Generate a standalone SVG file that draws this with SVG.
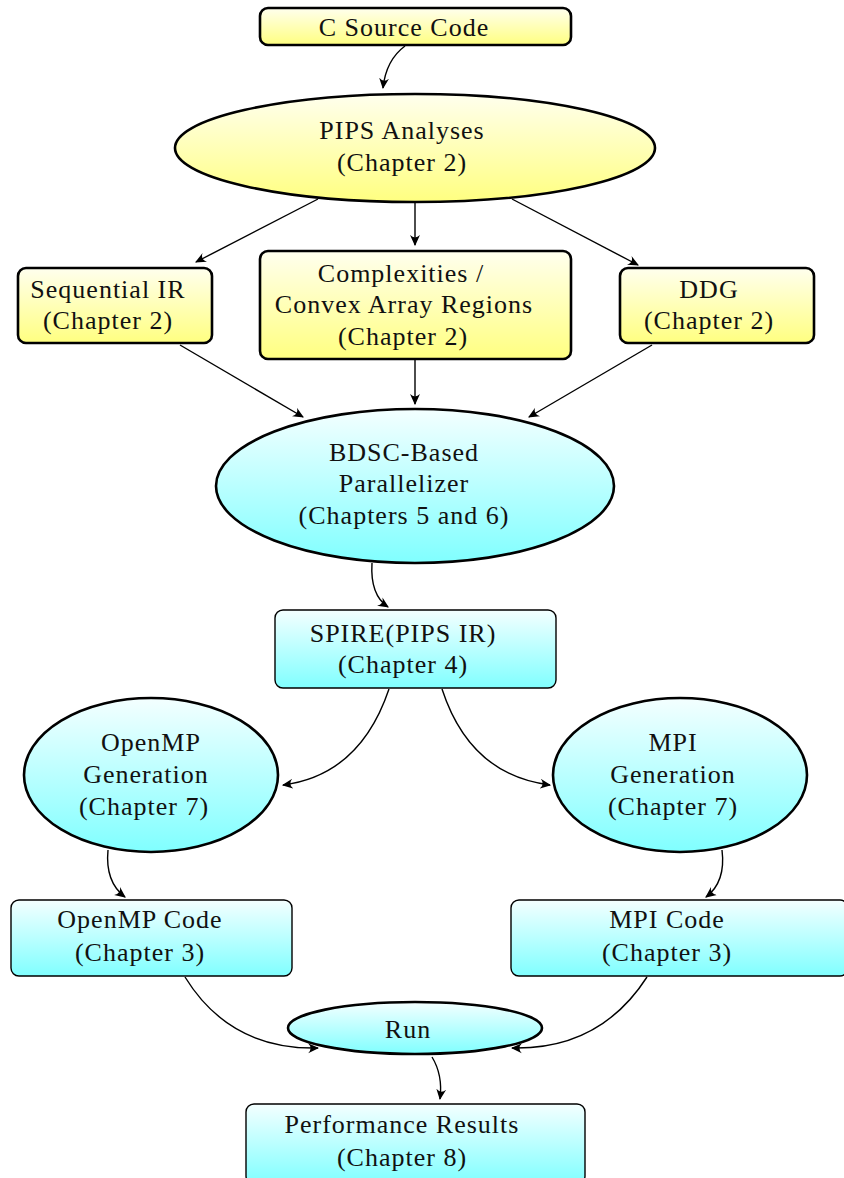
<svg xmlns="http://www.w3.org/2000/svg" width="844" height="1178" viewBox="0 0 844 1178">
<defs>
<linearGradient id="gy" x1="0" y1="0" x2="0" y2="1"><stop offset="0" stop-color="#ffffee"/><stop offset="1" stop-color="#ffff80"/></linearGradient>
<linearGradient id="gc" x1="0" y1="0" x2="0" y2="1"><stop offset="0" stop-color="#f4ffff"/><stop offset="1" stop-color="#80ffff"/></linearGradient>
<marker id="ah" viewBox="0 0 10 10" refX="9" refY="5" markerWidth="11" markerHeight="11" markerUnits="userSpaceOnUse" orient="auto">
<path d="M0,0.5 Q4.5,5 0,9.5 L10,5 Z" fill="#000"/>
</marker>
<style>
.y{fill:url(#gy);stroke:#000;stroke-width:2.6}
.c{fill:url(#gc);stroke:#000;stroke-width:1.4}
.ce{fill:url(#gc);stroke:#000;stroke-width:2.6}
text{font-family:"Liberation Serif","DejaVu Serif",serif;font-size:26px;letter-spacing:1px;fill:#111;text-anchor:middle}
.e path{fill:none;stroke:#000;stroke-width:1.4;marker-end:url(#ah)}
</style>
</defs>
<g class="e" id="connectors">
<path d="M405,46 Q386,60 383,88"/>
<path d="M318,199 L196,262"/>
<path d="M415,203 L415,245"/>
<path d="M512,199 L638,265"/>
<path d="M180,345 L303,417"/>
<path d="M415,360 L415,404"/>
<path d="M652,345 L529,417"/>
<path d="M372,563 Q370,595 388,607"/>
<path d="M389,689 Q360,775 283,785"/>
<path d="M442,689 Q470,775 550,785"/>
<path d="M108,850 Q105,882 125,897"/>
<path d="M722,850 Q726,882 706,897"/>
<path d="M185,977 Q230,1050 318,1048"/>
<path d="M647,977 Q600,1050 512,1048"/>
<path d="M432,1057 Q443,1075 440,1099"/>
</g>
<g id="n1"><rect class="y" x="260" y="8" width="311" height="37" rx="8"/><text x="404" y="36">C Source Code</text></g>
<g id="n2"><ellipse class="y" cx="415" cy="148" rx="240" ry="54"/><text x="402" y="139">PIPS Analyses</text><text x="402" y="171">(Chapter 2)</text></g>
<g id="n3"><rect class="y" x="18" y="268" width="194" height="75" rx="8"/><text x="108" y="298">Sequential IR</text><text x="108" y="329">(Chapter 2)</text></g>
<g id="n4"><rect class="y" x="260" y="251" width="311" height="108" rx="8"/><text x="401" y="282">Complexities /</text><text x="404" y="313">Convex Array Regions</text><text x="403" y="345">(Chapter 2)</text></g>
<g id="n5"><rect class="y" x="620" y="268" width="194" height="75" rx="8"/><text x="709" y="298">DDG</text><text x="709" y="329">(Chapter 2)</text></g>
<g id="n6"><ellipse class="ce" cx="415" cy="486" rx="199" ry="77"/><text x="404" y="461">BDSC-Based</text><text x="404" y="492">Parallelizer</text><text x="404" y="524">(Chapters 5 and 6)</text></g>
<g id="n7"><rect class="c" x="275" y="610" width="281" height="78" rx="8"/><text x="403" y="642">SPIRE(PIPS IR)</text><text x="403" y="673">(Chapter 4)</text></g>
<g id="n8"><ellipse class="ce" cx="151" cy="775" rx="127" ry="77"/><text x="151" y="751">OpenMP</text><text x="146" y="783">Generation</text><text x="144" y="815">(Chapter 7)</text></g>
<g id="n9"><ellipse class="ce" cx="680" cy="775" rx="127" ry="77"/><text x="673" y="751">MPI</text><text x="673" y="783">Generation</text><text x="673" y="815">(Chapter 7)</text></g>
<g id="n10"><rect class="c" x="11" y="900" width="281" height="76" rx="8"/><text x="140" y="928">OpenMP Code</text><text x="140" y="961">(Chapter 3)</text></g>
<g id="n11"><rect class="c" x="511" y="900" width="337" height="76" rx="8"/><text x="667" y="928">MPI Code</text><text x="667" y="961">(Chapter 3)</text></g>
<g id="n12"><ellipse class="ce" cx="415" cy="1028" rx="127" ry="26"/><text x="408" y="1038">Run</text></g>
<g id="n13"><rect class="c" x="246" y="1104" width="339" height="80" rx="8"/><text x="402" y="1133">Performance Results</text><text x="402" y="1166">(Chapter 8)</text></g>
</svg>
